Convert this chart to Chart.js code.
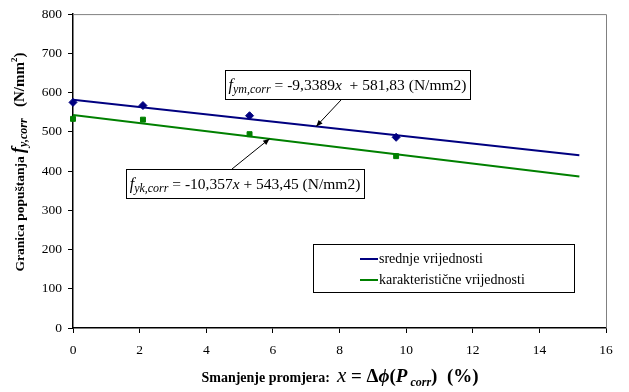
<!DOCTYPE html>
<html>
<head>
<meta charset="utf-8">
<script src="https://cdn.jsdelivr.net/npm/chart.js@4.4.0/dist/chart.umd.min.js"></script>
<style>
  html, body { margin: 0; padding: 0; background: #fff; }
  #wrap { width: 629px; height: 392px; position: relative; }
</style>
</head>
<body>
<div id="wrap"><canvas id="chart"></canvas></div>
<script>
// izmjereni podaci
const xSrednje = [0, 2.1, 5.3, 9.7];
const ySrednje = [575, 567, 541, 486];
const xKarakt = [0, 2.1, 5.3, 9.7];
const yKarakt = [533, 531, 494, 438];

// krajnje točke linija trenda (očitano sa slike)
const trendX = [0, 15.2];
const trendSrednje = [582, 440];
const trendKarakt = [543, 386];

const legendLabels = ['srednje vrijednosti', 'karakteristične vrijednosti'];
const yTicks = [0, 100, 200, 300, 400, 500, 600, 700, 800];
const xTicks = [0, 2, 4, 6, 8, 10, 12, 14, 16];

const BLUE = '#000080';
const GREEN = '#008000';
const SERIF = '"Liberation Serif", "Times New Roman", serif';

const toPts = (xs, ys) => xs.map((x, i) => ({ x: x, y: ys[i] }));

// crta tekst iz više dijelova (različiti fontovi, indeksi)
function richWidth(ctx, parts) {
    let w = 0;
    parts.forEach(p => { ctx.font = p.font; w += ctx.measureText(p.t).width; });
    return w;
}
function drawRich(ctx, parts, x, y) {
    ctx.textBaseline = 'alphabetic';
    ctx.textAlign = 'left';
    parts.forEach(p => {
        ctx.font = p.font;
        ctx.fillText(p.t, x, y + (p.dy || 0));
        x += ctx.measureText(p.t).width;
    });
}

function boxLabel(ctx, box, parts, arrow) {
    ctx.save();
    ctx.fillStyle = '#fff';
    ctx.fillRect(box.x, box.y, box.w, box.h);
    ctx.strokeStyle = '#000';
    ctx.lineWidth = 1;
    ctx.strokeRect(box.x + 0.5, box.y + 0.5, box.w, box.h);
    ctx.fillStyle = '#000';
    const w = richWidth(ctx, parts);
    drawRich(ctx, parts, box.x + (box.w - w) / 2, box.y + box.h / 2 + 5);
    // strelica
    ctx.beginPath();
    ctx.moveTo(arrow.x1, arrow.y1);
    ctx.lineTo(arrow.x2, arrow.y2);
    ctx.stroke();
    const ang = Math.atan2(arrow.y2 - arrow.y1, arrow.x2 - arrow.x1);
    ctx.beginPath();
    ctx.moveTo(arrow.x2, arrow.y2);
    ctx.lineTo(arrow.x2 - 7 * Math.cos(ang - 0.4), arrow.y2 - 7 * Math.sin(ang - 0.4));
    ctx.lineTo(arrow.x2 - 7 * Math.cos(ang + 0.4), arrow.y2 - 7 * Math.sin(ang + 0.4));
    ctx.closePath();
    ctx.fill();
    ctx.restore();
}

const ukrasi = {
    id: 'ukrasi',
    beforeDatasetsDraw(chart) {
        const { ctx, chartArea: a } = chart;
        // siva granica područja crtanja (gore i desno)
        ctx.save();
        ctx.strokeStyle = '#808080';
        ctx.lineWidth = 1;
        ctx.beginPath();
        ctx.moveTo(a.left, a.top + 0.5);
        ctx.lineTo(a.right + 0.5, a.top + 0.5);
        ctx.lineTo(a.right + 0.5, a.bottom);
        ctx.stroke();
        ctx.restore();
    },
    afterDraw(chart) {
        const { ctx } = chart;
        const xs = chart.scales.x, ys = chart.scales.y;

        // oznake jednadžbi
        boxLabel(ctx, { x: 225, y: 70, w: 245, h: 29 }, [
            { t: 'f', font: 'italic 16px ' + SERIF },
            { t: 'ym,corr', font: 'italic 12px ' + SERIF, dy: 3 },
            { t: ' = -9,3389', font: '15.5px ' + SERIF },
            { t: 'x', font: 'italic 15.5px ' + SERIF },
            { t: '  + 581,83 (N/mm2)', font: '15.5px ' + SERIF }
        ], { x1: 341, y1: 100, x2: xs.getPixelForValue(7.3), y2: ys.getPixelForValue(581.83 - 9.3389 * 7.3) });

        boxLabel(ctx, { x: 126, y: 169, w: 238, h: 29 }, [
            { t: 'f', font: 'italic 16px ' + SERIF },
            { t: 'yk,corr', font: 'italic 12px ' + SERIF, dy: 3 },
            { t: ' = -10,357', font: '15.5px ' + SERIF },
            { t: 'x', font: 'italic 15.5px ' + SERIF },
            { t: ' + 543,45 (N/mm2)', font: '15.5px ' + SERIF }
        ], { x1: 232, y1: 169, x2: xs.getPixelForValue(5.9), y2: ys.getPixelForValue(543.45 - 10.357 * 5.9) });

        // legenda
        ctx.save();
        ctx.fillStyle = '#fff';
        ctx.fillRect(313, 244, 261, 48);
        ctx.strokeStyle = '#000';
        ctx.lineWidth = 1;
        ctx.strokeRect(313.5, 244.5, 261, 48);
        const boje = [BLUE, GREEN];
        legendLabels.forEach((lab, i) => {
            const y = 259 + i * 21;
            ctx.strokeStyle = boje[i];
            ctx.lineWidth = 2;
            ctx.beginPath();
            ctx.moveTo(360, y);
            ctx.lineTo(378, y);
            ctx.stroke();
            ctx.fillStyle = '#000';
            ctx.font = '14px ' + SERIF;
            ctx.textBaseline = 'middle';
            ctx.fillText(lab, 379, y);
        });
        ctx.restore();

        // naslov osi x
        ctx.save();
        ctx.fillStyle = '#000';
        const xParts = [
            { t: 'Smanjenje promjera:  ', font: 'bold 14px ' + SERIF },
            { t: 'x', font: 'italic 21px ' + SERIF },
            { t: ' = Δ', font: 'bold 19px ' + SERIF },
            { t: 'ϕ', font: 'bold italic 19px ' + SERIF },
            { t: '(', font: 'bold 19px ' + SERIF },
            { t: 'P', font: 'bold italic 19px ' + SERIF },
            { t: ' corr', font: 'bold italic 12px ' + SERIF, dy: 4 },
            { t: ')  (%)', font: 'bold 19px ' + SERIF }
        ];
        const xw = richWidth(ctx, xParts);
        drawRich(ctx, xParts, 340 - xw / 2, 382);
        ctx.restore();

        // naslov osi y (rotiran)
        ctx.save();
        ctx.fillStyle = '#000';
        ctx.translate(24, 162);
        ctx.rotate(-Math.PI / 2);
        const yParts = [
            { t: 'Granica popuštanja ', font: 'bold 13.5px ' + SERIF },
            { t: 'f', font: 'bold italic 18px ' + SERIF },
            { t: 'y,corr', font: 'bold italic 12px ' + SERIF, dy: 3 },
            { t: '   (N/mm', font: 'bold 15px ' + SERIF },
            { t: '2', font: 'bold 9px ' + SERIF, dy: -7 },
            { t: ')', font: 'bold 15px ' + SERIF }
        ];
        const yw = richWidth(ctx, yParts);
        drawRich(ctx, yParts, -yw / 2, 0);
        ctx.restore();
    }
};

const ctx = document.getElementById('chart').getContext('2d');
new Chart(ctx, {
    type: 'scatter',
    data: {
        datasets: [
            {
                label: legendLabels[0],
                data: toPts(trendX, trendSrednje),
                showLine: true,
                borderColor: BLUE,
                borderWidth: 2,
                pointRadius: 0
            },
            {
                label: legendLabels[1],
                data: toPts(trendX, trendKarakt),
                showLine: true,
                borderColor: GREEN,
                borderWidth: 2,
                pointRadius: 0
            },
            {
                label: 'srednje (mjerenja)',
                data: toPts(xSrednje, ySrednje),
                pointStyle: 'rectRot',
                pointRadius: 4,
                backgroundColor: BLUE,
                borderColor: BLUE,
                clip: false
            },
            {
                label: 'karakteristične (mjerenja)',
                data: toPts(xKarakt, yKarakt),
                pointStyle: 'rect',
                pointRadius: 3.5,
                backgroundColor: GREEN,
                borderColor: GREEN,
                clip: false
            }
        ]
    },
    options: {
        responsive: true,
        maintainAspectRatio: false,
        animation: false,
        layout: { padding: { top: 13, right: 23, left: 0, bottom: 0 } },
        plugins: {
            legend: { display: false },
            tooltip: { enabled: false }
        },
        scales: {
            x: {
                type: 'linear',
                min: 0,
                max: 16,
                afterBuildTicks: (s) => { s.ticks = xTicks.map(v => ({ value: v })); },
                afterFit: (s) => { s.height = 64; },
                grid: { drawOnChartArea: false, color: '#000', tickLength: 5 },
                border: { color: '#000', width: 1.5 },
                ticks: { color: '#000', font: { family: SERIF, size: 13.5 }, padding: 9, maxRotation: 0 }
            },
            y: {
                min: 0,
                max: 800,
                afterBuildTicks: (s) => { s.ticks = yTicks.map(v => ({ value: v })); },
                afterFit: (s) => { s.width = 73; },
                grid: { drawOnChartArea: false, color: '#000', tickLength: 5 },
                border: { color: '#000', width: 1.5 },
                ticks: { color: '#000', font: { family: SERIF, size: 13.5 }, padding: 6 }
            }
        }
    },
    plugins: [ukrasi]
});
</script>
</body>
</html>
